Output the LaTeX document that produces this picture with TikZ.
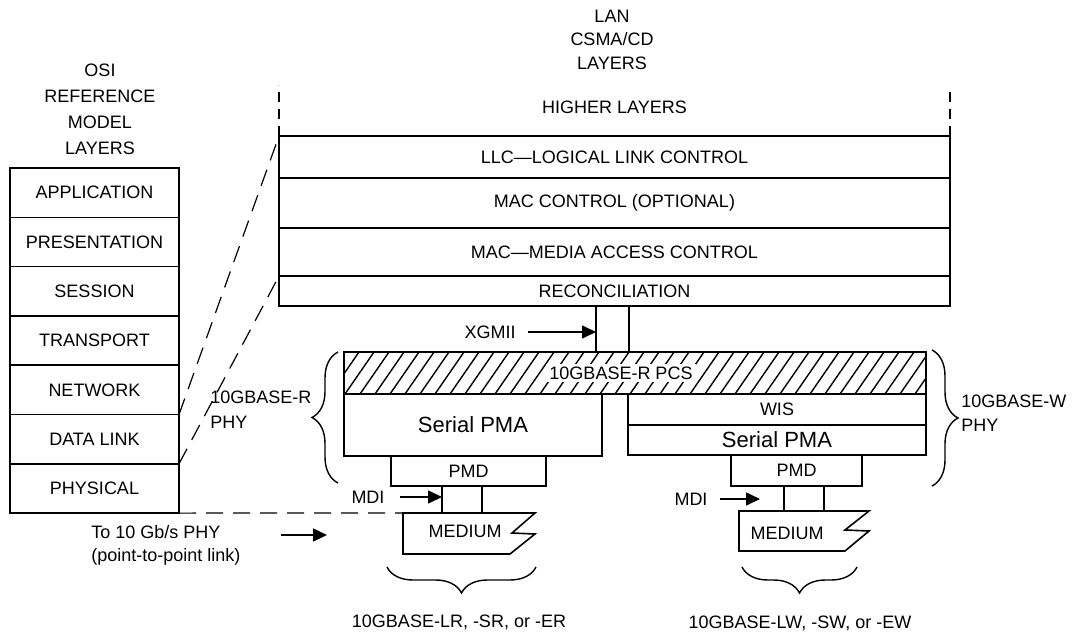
\documentclass[tikz,border=0pt]{standalone}
\usepackage{fontspec}
\setmainfont{Liberation Sans}
\usetikzlibrary{positioning,arrows.meta,decorations.pathreplacing}

\begin{document}
\begin{tikzpicture}[
  x=0.5pt, y=-0.5pt,
  font=\fontsize{9}{12}\selectfont,
  layer/.style={draw, line width=0.8pt, minimum width=84.5pt, minimum height=24.65pt, inner sep=0pt, outer sep=0pt},
  lanrow/.style={draw, line width=0.8pt, minimum width=335.5pt, inner sep=0pt, outer sep=0pt},
  sub/.style={draw, line width=0.8pt, inner sep=0pt, outer sep=0pt},
  bigtext/.style={font=\fontsize{11}{13}\selectfont},
  link/.style={line width=0.6pt, dash pattern=on 8.5pt off 5pt},
  vlink/.style={line width=0.6pt, dash pattern=on 5pt off 3.5pt},
  wire/.style={line width=0.8pt},
  arr/.style={-{Triangle[length=7pt,width=6.5pt]}, line width=0.8pt},
  brc/.style={decorate, decoration={brace, amplitude=13pt}, line width=0.7pt}
]
\useasboundingbox (0,0) rectangle (1072,632);

% OSI reference model
\node[align=center, font=\fontsize{9}{13}\selectfont] (osititle) at (100,109) {OSI\\REFERENCE\\MODEL\\LAYERS};
\node[layer] (app) at (94.5,192.65) {APPLICATION};
\node[layer, below=0pt of app] (pres) {PRESENTATION};
\node[layer, below=0pt of pres] (sess) {SESSION};
\node[layer, below=0pt of sess] (trans) {TRANSPORT};
\node[layer, below=0pt of trans] (netw) {NETWORK};
\node[layer, below=0pt of netw] (dlink) {DATA LINK};
\node[layer, below=0pt of dlink] (phys) {PHYSICAL};

% LAN CSMA/CD layers
\node[align=center, font=\fontsize{9}{11.75}\selectfont] (lantitle) at (612,39.5) {LAN\\CSMA/CD\\LAYERS};
\node (higher) at (614.5,107) {HIGHER LAYERS};
\node[lanrow, minimum height=21pt] (llc) at (614.5,157) {LLC—LOGICAL LINK CONTROL};
\node[lanrow, minimum height=25pt, below=0pt of llc] (macctl) {MAC CONTROL (OPTIONAL)};
\node[lanrow, minimum height=24pt, below=0pt of macctl] (mac) {MAC—MEDIA ACCESS CONTROL};
\node[lanrow, minimum height=15pt, below=0pt of mac] (recon) {RECONCILIATION};

% PHY
\node[sub, minimum width=291pt, minimum height=21pt] (pcs) at (635,373) {};
\begin{scope}
  \clip (pcs.south west) rectangle (pcs.north east);
  \foreach \hx in {330,345,...,930}
    \draw[line width=0.7pt] (\hx,394) -- ++(29,-42);
\end{scope}
\node[fill=white, inner sep=1.5pt] (pcslabel) at (621,373) {10GBASE-R PCS};

\node[sub, bigtext, anchor=north west, minimum width=129pt, minimum height=31pt] (pmal) at (pcs.south west) {Serial PMA};
\node[sub, minimum width=77.5pt, minimum height=15pt] (pmdl) at (468.5,471) {PMD};
\node[sub, anchor=north east, minimum width=149pt, minimum height=15.5pt] (wis) at (pcs.south east) {WIS};
\node[sub, bigtext, below=0pt of wis, minimum width=149pt, minimum height=15pt] (pmar) {Serial PMA};
\node[sub, minimum width=65.5pt, minimum height=15.5pt] (pmdr) at (796.5,470.5) {PMD};

% Media
\coordinate (medl) at (403,513);
\draw[wire] (medl) -- ++(132,0) -- ++(-23,20) -- ++(23,1) -- ++(-25,20) -- ++(-107,0) -- cycle;
\node (mediuml) at (465,531) {MEDIUM};
\coordinate (medr) at (739,511);
\draw[wire] (medr) -- ++(130,0) -- ++(-24,19) -- ++(24,1) -- ++(-24,20) -- ++(-106,0) -- cycle;
\node (mediumr) at (787,533) {MEDIUM};

% XGMII and MDI
\draw[wire] ([xshift=-9.25pt]recon.south) -- ([xshift=-9.25pt]recon.south |- pcs.north);
\draw[wire] ([xshift=7.25pt]recon.south) -- ([xshift=7.25pt]recon.south |- pcs.north);
\draw[wire] ([xshift=-13.25pt]pmdl.south) -- ([xshift=-13.25pt]pmdl.south |- medl);
\draw[wire] ([xshift=6.75pt]pmdl.south) -- ([xshift=6.75pt]pmdl.south |- medl);
\draw[wire] ([xshift=-6.25pt]pmdr.south) -- ([xshift=-6.25pt]pmdr.south |- medr);
\draw[wire] ([xshift=13.75pt]pmdr.south) -- ([xshift=13.75pt]pmdr.south |- medr);

\node[inner sep=0pt] (xgmii) at (490,332) {XGMII};
\draw[arr, shorten <=6pt] (xgmii.east) -- ([xshift=-9.25pt]recon.south |- xgmii.east);
\node[inner sep=0pt] (mdil) at (368,497) {MDI};
\draw[arr, shorten <=7.5pt] (mdil.east) -- ([xshift=-13.25pt]pmdl.south |- mdil.east);
\node[inner sep=0pt] (mdir) at (691,499) {MDI};
\draw[arr, shorten <=6pt, shorten >=12pt] (mdir.east) -- ([xshift=-6.25pt]pmdr.south |- mdir.east);

\node[align=left, anchor=west, inner sep=0pt, font=\fontsize{9}{11.5}\selectfont] (ptp) at (91,545.5) {To 10 Gb/s PHY\\(point-to-point link)};
\coordinate (ptptip) at (327,535);
\draw[arr, shorten <=20pt] (ptp.east |- ptptip) -- (ptptip);

% Mapping lines
\coordinate (hll) at ([yshift=25.5pt]llc.north west);
\coordinate (hlr) at ([yshift=24pt]llc.north east);
\draw[vlink] (llc.north west) -- (hll);
\draw[vlink] (llc.north east) -- (hlr);
\draw[link] (netw.south east) -- (llc.north west);
\draw[link] (phys.north east) -- (recon.north west);
\draw[link] (phys.south east) -- (medl);

% Braces and names
\draw[brc] (338,483) -- (338,352);
\node[align=left, anchor=west, inner sep=0pt, font=\fontsize{9}{12.5}\selectfont] (rphy) at (210,409.5) {10GBASE-R\\PHY};
\draw[brc] (932,350) -- (932,486);
\node[align=left, anchor=west, inner sep=0pt] (wphy) at (961,413) {10GBASE-W\\PHY};
\draw[brc] (536,567) -- (387,567);
\node (lrname) at (459,622) {10GBASE-LR, -SR, or -ER};
\draw[brc] (857,567) -- (742,567);
\node (lwname) at (800,623) {10GBASE-LW, -SW, or -EW};
\end{tikzpicture}
\end{document}
